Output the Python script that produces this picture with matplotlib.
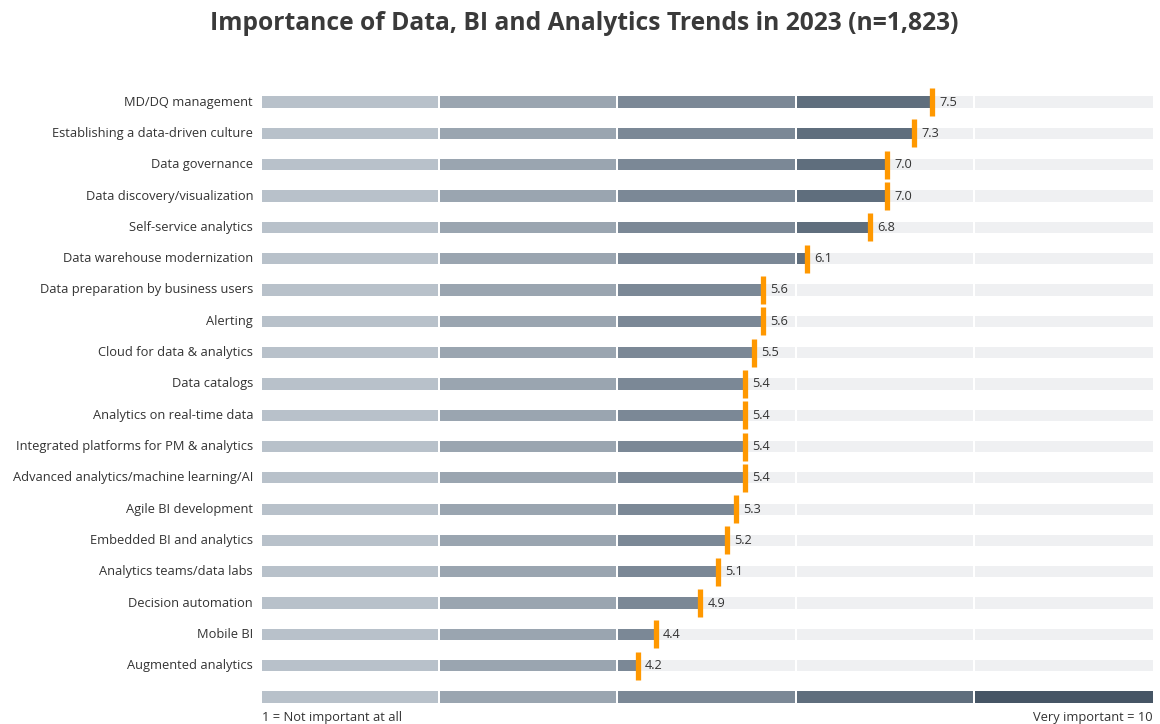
import matplotlib.pyplot as plt

# Data
trends = [
    "MD/DQ management",
    "Establishing a data-driven culture",
    "Data governance",
    "Data discovery/visualization",
    "Self-service analytics",
    "Data warehouse modernization",
    "Data preparation by business users",
    "Alerting",
    "Cloud for data & analytics",
    "Data catalogs",
    "Analytics on real-time data",
    "Integrated platforms for PM & analytics",
    "Advanced analytics/machine learning/AI",
    "Agile BI development",
    "Embedded BI and analytics",
    "Analytics teams/data labs",
    "Decision automation",
    "Mobile BI",
    "Augmented analytics",
]
scores = [7.5, 7.3, 7.0, 7.0, 6.8, 6.1, 5.6, 5.6, 5.5, 5.4, 5.4, 5.4, 5.4, 5.3, 5.2, 5.1, 4.9, 4.4, 4.2]
seg_edges = [0, 2, 4, 6, 8, 10]
seg_colors = ["#b8c1ca", "#9aa5b0", "#7b8896", "#5f6e7d", "#465565"]
bg_color = "#eff0f2"
marker_color = "#ff9800"
text_color = "#333333"

plt.rcParams['font.family'] = ['Open Sans', 'DejaVu Sans']

W, H = 1160, 724
fig = plt.figure(figsize=(W / 100, H / 100), dpi=100)
# axes: x 262..1153 px, rows at 102 px (first) to 697 px (scale row)
ax = fig.add_axes([262 / W, (H - 712.7) / H, 891 / W, 626.3 / H])
ax.set_xlim(0, 10)
ax.set_ylim(19.5, -0.5)
ax.axis('off')

gap = 0.022
bar_h = 0.36

for i, (name, val) in enumerate(zip(trends, scores)):
    for k in range(5):
        lo, hi = seg_edges[k], seg_edges[k + 1]
        right_gap = gap if k < 4 else 0
        # background segment
        ax.barh(i, hi - lo - right_gap, left=lo, height=bar_h, color=bg_color, linewidth=0)
        # filled part
        if val > lo:
            end = min(val, hi)
            w = end - lo - (right_gap if end == hi else 0)
            ax.barh(i, w, left=lo, height=bar_h, color=seg_colors[k], linewidth=0)
    # marker sits just right of the bar end
    ax.plot([val + 0.02], [i], marker='|', markersize=20, markeredgewidth=3.8, color=marker_color)
    ax.text(val + 0.1, i, f"{val:.1f}", va='center', ha='left', fontsize=9.2, color=text_color)
    ax.text(-0.1, i, name, va='center', ha='right', fontsize=9.3, color=text_color)

# scale legend row
scale_row = len(trends)
for k in range(5):
    lo, hi = seg_edges[k], seg_edges[k + 1]
    right_gap = gap if k < 4 else 0
    ax.barh(scale_row, hi - lo - right_gap, left=lo, height=bar_h, color=seg_colors[k], linewidth=0)

fig.text(262 / W, 1 - 717 / H, "1 = Not important at all", ha='left', va='center', fontsize=9.3, color=text_color)
fig.text(1153 / W, 1 - 717 / H, "Very important = 10", ha='right', va='center', fontsize=9.3, color=text_color)

fig.text(584 / W, 1 - 24 / H, "Importance of Data, BI and Analytics Trends in 2023 (n=1,823)",
         ha='center', va='center', fontsize=17.7, fontweight='bold', color="#3a3a3a")

fig.savefig("out.png", dpi=100)
